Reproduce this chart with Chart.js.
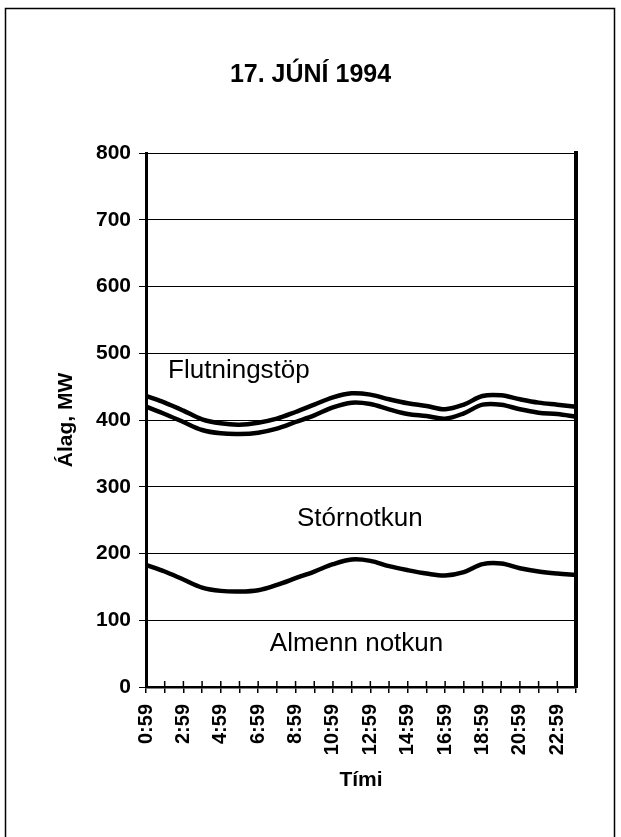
<!DOCTYPE html>
<html>
<head>
<meta charset="utf-8">
<script src="https://cdn.jsdelivr.net/npm/chart.js@4/dist/chart.umd.min.js"></script>
<style>
  html, body { margin: 0; padding: 0; background: #fff; }
  #wrap { width: 621px; height: 837px; }
</style>
</head>
<body>
<div id="wrap"><canvas id="c" width="621" height="837"></canvas></div>
<script>
// ---- data ----
const hours = ['0:59','1:59','2:59','3:59','4:59','5:59','6:59','7:59','8:59','9:59','10:59','11:59',
               '12:59','13:59','14:59','15:59','16:59','17:59','18:59','19:59','20:59','21:59','22:59','23:59'];
// cumulative load lines, MW
const almennNotkun = [183,173,161,149,144,143,145,153,163,173,184,191,189,181,175,170,167,172,184,185,178,173,170,168];
const medStornotkun = [420,409,397,385,380,379,381,387,397,407,419,426,424,416,409,406,402,410,423,423,416,411,409,405];
const medFlutningstopi = [436,426,414,401,395,393,396,402,412,423,434,440,438,431,425,421,416,423,436,437,431,426,423,420];
const yTicks = [0,100,200,300,400,500,600,700,800];
const areaLabels = ['Flutningstöp','Stórnotkun','Almenn notkun'];
const chartTitle = '17. JÚNÍ 1994';
const yTitle = 'Álag, MW';
const xTitle = 'Tími';

// ---- layout / style (kept separate from data) ----
const FONT = "'Liberation Sans', Arial, Helvetica, sans-serif";
const labelSpots = [ {x: 4.97, y: 473}, {x: 11.44, y: 252}, {x: 11.26, y: 64} ];

const decorations = {
  id: 'decorations',
  beforeDraw(chart) {
    const ctx = chart.ctx;
    ctx.save();
    ctx.fillStyle = '#fff';
    ctx.fillRect(0, 0, chart.width, chart.height);
    ctx.strokeStyle = '#000';
    ctx.lineWidth = 1.5;
    ctx.strokeRect(5.5, 8.5, 609, 860);
    ctx.restore();
  },
  afterDraw(chart) {
    const ctx = chart.ctx;
    const xs = chart.scales.x, ys = chart.scales.y;
    const a = chart.chartArea;
    ctx.save();
    // tick marks above the x axis (cross-style ticks)
    ctx.strokeStyle = '#000';
    ctx.lineWidth = 1.5;
    for (let i = 0; i < hours.length; i++) {
      const px = xs.getPixelForTick(i);
      ctx.beginPath();
      ctx.moveTo(px, a.bottom);
      ctx.lineTo(px, a.bottom - 6);
      ctx.stroke();
    }
    // area labels
    ctx.fillStyle = '#000';
    ctx.font = '26px ' + FONT;
    ctx.textAlign = 'center';
    ctx.textBaseline = 'middle';
    areaLabels.forEach((t, i) => {
      ctx.fillText(t, xs.getPixelForValue(labelSpots[i].x), ys.getPixelForValue(labelSpots[i].y));
    });
    ctx.restore();
  }
};

const lineStyle = {
  borderColor: '#000',
  borderWidth: 4.5,
  pointRadius: 0,
  tension: 0.35,
  fill: false
};

new Chart(document.getElementById('c'), {
  type: 'line',
  data: {
    labels: hours,
    datasets: [
      Object.assign({ label: 'Almenn notkun', data: almennNotkun }, lineStyle),
      Object.assign({ label: 'Stórnotkun', data: medStornotkun }, lineStyle),
      Object.assign({ label: 'Flutningstöp', data: medFlutningstopi }, lineStyle)
    ]
  },
  options: {
    responsive: false,
    animation: false,
    devicePixelRatio: 1,
    layout: { padding: { left: 0, right: 0, top: 50, bottom: 0 } },
    plugins: {
      legend: { display: false },
      tooltip: { enabled: false },
      title: {
        display: true,
        text: chartTitle,
        color: '#000',
        font: { family: FONT, size: 25, weight: 'bold' },
        padding: { top: 10, bottom: 63 }
      }
    },
    scales: {
      x: {
        type: 'category',
        offset: false,
        border: { display: true, color: '#000', width: 2.5 },
        grid: { display: true, drawOnChartArea: false, drawTicks: true, tickLength: 6, color: '#000', lineWidth: 1.5 },
        ticks: {
          autoSkip: false,
          minRotation: 90,
          maxRotation: 90,
          padding: 11,
          color: '#000',
          font: { family: FONT, size: 20, weight: 'bold' },
          callback: function(v, i) { return i % 2 === 0 ? hours[i] : ''; }
        },
        title: {
          display: true,
          text: xTitle,
          color: '#000',
          font: { family: FONT, size: 21, weight: 'bold' },
          padding: { top: 0, bottom: 44.4 }
        },
        afterFit(scale) { scale.height = 150; }
      },
      y: {
        position: 'left',
        min: 0,
        max: 800,
        afterBuildTicks(scale) { scale.ticks = yTicks.map(v => ({ value: v })); },
        border: { display: true, color: '#000', width: 3 },
        grid: { color: '#000', lineWidth: 1, drawTicks: true, tickLength: 7 },
        ticks: {
          padding: 8,
          color: '#000',
          font: { family: FONT, size: 21, weight: 'bold' }
        },
        title: {
          display: true,
          text: yTitle,
          color: '#000',
          font: { family: FONT, size: 21, weight: 'bold' },
          padding: { top: 54, bottom: 0 }
        },
        afterFit(scale) { scale.width = 146; }
      },
      y2: {
        position: 'right',
        min: 0,
        max: 800,
        border: { display: true, color: '#000', width: 4 },
        grid: { drawOnChartArea: false, drawTicks: false },
        ticks: { display: false },
        afterFit(scale) { scale.width = 45; }
      }
    }
  },
  plugins: [decorations]
});
</script>
</body>
</html>
